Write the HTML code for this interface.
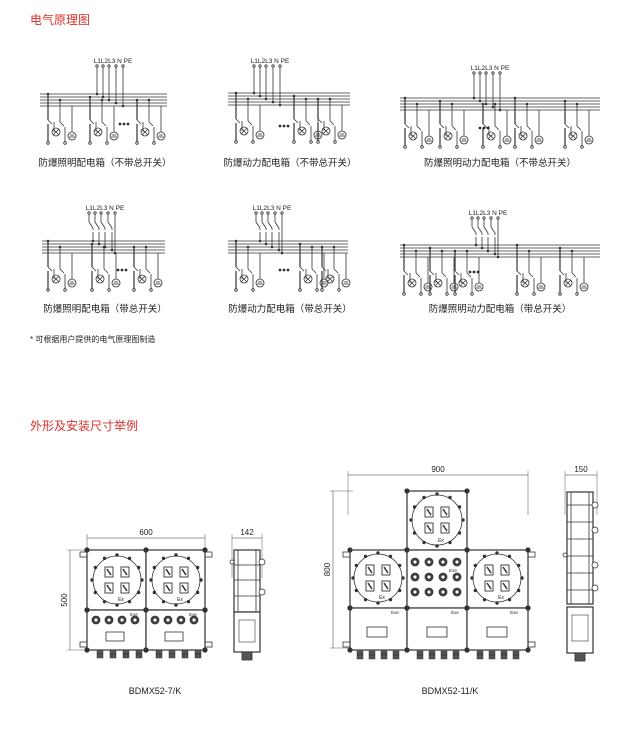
<!DOCTYPE html>
<html><head><meta charset="utf-8"><style>
html,body{margin:0;padding:0;background:#fff;width:640px;height:729px;overflow:hidden}
svg{display:block}
text{font-family:"Liberation Sans","Noto Sans CJK SC",sans-serif;fill:#222}
</style></head><body>
<svg id="s" width="640" height="729" viewBox="0 0 640 729" xmlns="http://www.w3.org/2000/svg" stroke="#333" stroke-width="0.8" fill="none">
<text x="30" y="24" font-size="12" fill="#d9302a" stroke="none" style="fill:#d9302a">电气原理图</text>
<text x="30" y="342" font-size="8" stroke="none">* 可根据用户提供的电气原理图制造</text>
<text x="30" y="430" font-size="12" stroke="none" style="fill:#d9302a">外形及安装尺寸举例</text>
<g stroke="none" font-size="9.5" text-anchor="middle">
<text x="105" y="166">防爆照明配电箱（不带总开关）</text>
<text x="290" y="166">防爆动力配电箱（不带总开关）</text>
<text x="500" y="166">防爆照明动力配电箱（不带总开关）</text>
<text x="105" y="312">防爆照明配电箱（带总开关）</text>
<text x="290" y="312">防爆动力配电箱（带总开关）</text>
<text x="500" y="312">防爆照明动力配电箱（带总开关）</text>
<text x="155" y="694" font-size="9">BDMX52-7/K</text>
<text x="450" y="694" font-size="9">BDMX52-11/K</text>
</g>
<g id="g"></g>
</svg>
<script>
var g=document.getElementById('g'),h='';
function L(a,b,c,d,w){h+='<line x1="'+a+'" y1="'+b+'" x2="'+c+'" y2="'+d+'"'+(w?' stroke-width="'+w+'"':'')+'/>';}
function C(x,y,r,f){h+='<circle cx="'+x+'" cy="'+y+'" r="'+r+'"'+(f?' fill="'+f+'"':'')+'/>';}
function R(x,y,w,hh,f,sw){h+='<rect x="'+x+'" y="'+y+'" width="'+w+'" height="'+hh+'"'+(f?' fill="'+f+'"':'')+(sw?' stroke-width="'+sw+'"':'')+'/>';}
function T(x,y,s,fs,a){h+='<text x="'+x+'" y="'+y+'" font-size="'+fs+'" stroke="none" text-anchor="'+(a||'middle')+'">'+s+'</text>';}
var S=3;
function sch(x0,x1,lx,ly,by,groups,dots,main){
 T(lx,ly,'L1L2L3 N PE',6.5);
 var xs=[lx-16,lx-10,lx-4,lx+3,lx+10];
 for(var i=0;i<5;i++){L(x0,by+i*S,x1,by+i*S);C(xs[i],ly+3,1.2);
  if(main&&i<4){L(xs[i],ly+4,xs[i],ly+12);L(xs[i],ly+12,xs[i]+4,ly+18);L(xs[i]+4,ly+18,xs[i]+4,ly+20);L(xs[i]+4,ly+22,xs[i]+4,by+i*S);}
  else L(xs[i],ly+4,xs[i],by+i*S);
  C(xs[i]+(main&&i<4?4:0),by+i*S,0.9,'#333');}
 var bt=by+16;
 groups.forEach(function(gx,k){
  var b=[[gx,by+S*(k%3)],[gx+12,by+2*S],[gx+22,by+3*S]];
  L(gx,b[0][1],gx,bt+10,1.2);C(gx,b[0][1],0.9,'#333');
  L(gx,bt+10,gx+4,bt+14);L(gx+6,bt+12,gx+6,bt+22);C(gx+8,bt+22,4);L(gx+5,bt+19,gx+11,bt+25);L(gx+11,bt+19,gx+5,bt+25);
  L(gx,bt+14,gx,bt+32,1.2);C(gx,bt+33,1.3);
  L(gx+12,b[1][1],gx+12,bt+12);C(gx+12,b[1][1],0.9,'#333');L(gx+12,bt+12,gx+16,bt+16);L(gx+17,bt+17,gx+17,bt+32);C(gx+17,bt+33,1.3);
  L(gx+24,by+4*S,gx+24,bt+22);C(gx+24,bt+26,4);L(gx+21,bt+27,gx+27,bt+27);L(gx+22,bt+25,gx+26,bt+25);
 });
 dots.forEach(function(d){C(d[0],d[1],1,'#222');C(d[0]+4,d[1],1,'#222');C(d[0]+8,d[1],1,'#222');});
}
sch(40,167,113,63,94,[48,90,137],[[120,124]],0);
sch(228,350,270,63,93,[236,294,318],[[280,126]],0);
sch(400,600,490,70,98,[405,440,483,515,565],[[480,128]],0);
sch(42,165,105,210,241,[48,92,134],[[118,270]],1);
sch(228,348,272,210,241,[236,300,322],[[280,270]],1);
sch(400,600,488,215,245,[404,430,455,517,560],[[470,272]],1);
function dimH(x0,x1,y,s){L(x0,y,x1,y,0.5);L(x0,y-4,x0,y+40,0.4);L(x1,y-4,x1,y+40,0.4);T((x0+x1)/2,y-3,s,8);}
function dimV(x,y0,y1,s){L(x,y0,x,y1,0.5);L(x-3,y0,x+20,y0,0.4);L(x-3,y1,x+20,y1,0.4);h+='<text x="'+(x-3)+'" y="'+((y0+y1)/2)+'" font-size="8" stroke="none" text-anchor="middle" transform="rotate(-90 '+(x-3)+' '+((y0+y1)/2)+')">'+s+'</text>';}
function win(cx,cy,r){C(cx,cy,r,'#fff');for(var a=0;a<12;a++){var t=a*Math.PI/6;C(cx+(r+1)*Math.cos(t),cy+(r+1)*Math.sin(t),1.3,'#333');}
 [[-8,-8],[8,-8],[-8,8],[8,8]].forEach(function(p){R(cx+p[0]-4,cy+p[1]-5,8,10,'#fff',0.9);L(cx+p[0]-2,cy+p[1]-3,cx+p[0]+2,cy+p[1]+3,1.5);});T(cx+4,cy+r-3,'Ex',5);}
function knobs(x,y,n,dx){for(var i=0;i<n;i++){C(x+i*dx,y,4,'#444');C(x+i*dx,y,2,'#fff');}}
function glands(x,y,n,dx){for(var i=0;i<n;i++){R(x+i*dx-3,y,6,8,'#555',0.5);L(x+i*dx-3,y+4,x+i*dx+3,y+4);}}
function box(x,y,w,hh){R(x,y,w,hh,'#fff',1.2);[[x,y],[x+w,y],[x,y+hh],[x+w,y+hh]].forEach(function(p){C(p[0],p[1],2.2,'#333');});}
dimH(87,205,538,'600');dimV(70,550,650,'500');
R(80,552,7,5);R(205,552,7,5);R(80,642,7,5);R(205,642,7,5);
box(87,550,59,60);box(146,550,59,60);win(117,580,24);win(176,580,24);
box(87,610,59,40);box(146,610,59,40);knobs(96,620,4,13);knobs(155,620,4,13);
R(106,632,18,9,'#fff');R(165,632,18,9,'#fff');T(134,616,'Exe',4.5);T(193,616,'Exe',4.5);
glands(100,650,4,13);glands(159,650,4,13);
dimH(232,262,538,'142');
R(234,550,26,62,'#fff',1.2);L(238,550,238,612);L(256,550,256,612);L(234,565,260,565);L(234,580,260,580);L(234,596,260,596);
C(262,562,3,'#fff');C(262,592,3,'#fff');C(232,562,2,'#fff');
R(234,612,26,40,'#fff',1.2);R(239,620,16,22,'#fff',0.6);R(242,652,10,8,'#555');
dimH(348,528,475,'900');dimV(333,491,648,'800');
box(407,491,60,59);win(437,520,25);
box(350,550,57,58);win(378,578,24);
box(467,550,61,58);win(497,578,24);
box(407,550,60,58);for(var r=0;r<3;r++)knobs(415,562+r*15,4,14);
box(350,608,57,42);box(407,608,60,42);box(467,608,61,42);
R(367,627,20,10,'#fff');R(427,627,20,10,'#fff');R(487,627,20,10,'#fff');
T(395,614,'Exe',4.5);T(453,572,'Exe',4.5);T(455,614,'Exe',4.5);T(514,614,'Exe',4.5);
R(343,552,7,5);R(528,552,7,5);R(343,642,7,5);R(528,642,7,5);
glands(360,651,4,12);glands(420,651,4,12);glands(480,651,4,12);
dimH(565,597,475,'150');
R(567,492,26,112,'#fff',1.2);L(571,492,571,604);L(589,492,589,604);
for(var k=0;k<6;k++)L(567,505+k*17,593,505+k*17);
C(595,505,3,'#fff');C(595,530,3,'#fff');C(595,565,3,'#fff');C(595,588,3,'#fff');C(565,555,2,'#fff');
R(567,607,26,46,'#fff',1.2);R(572,615,16,26,'#fff',0.6);R(575,653,10,8,'#555');
g.innerHTML=h;
</script>
</body></html>
